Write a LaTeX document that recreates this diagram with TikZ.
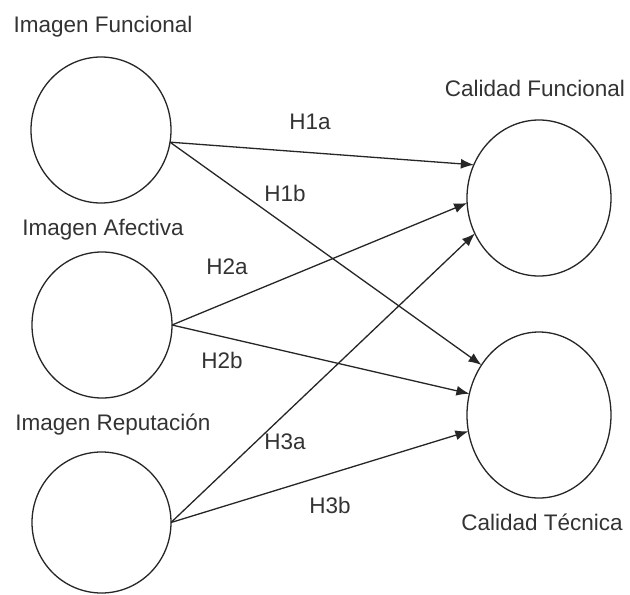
\documentclass[tikz,border=0pt]{standalone}
\usepackage{fontspec}
\setmainfont{Liberation Sans}
\usetikzlibrary{shapes.geometric,arrows.meta}
\begin{document}
\begin{tikzpicture}[x=1pt,y=-1pt,
  construct/.style={ellipse,draw=black!85,line width=1.3pt,inner sep=0pt,outer sep=0pt},
  lbl/.style={text=black!80,font=\fontsize{22.5}{26}\selectfont,inner sep=0pt},
  hyp/.style={-{Latex[length=13pt,width=10pt]},line width=1.3pt,draw=black!85}]
\useasboundingbox[fill=white] (0,0) rectangle (630,595);
% constructs
\node[construct,minimum width=140pt,minimum height=146pt] (if) at (101,130) {};
\node[construct,minimum width=140pt,minimum height=146pt] (ia) at (102,325) {};
\node[construct,minimum width=139pt,minimum height=141pt] (ir) at (101.5,522.5) {};
\node[construct,minimum width=144pt,minimum height=156pt] (cf) at (539,198) {};
\node[construct,minimum width=144pt,minimum height=166pt] (ct) at (539,415) {};
% construct labels
\node[lbl] (lif) at (103,27) {Imagen Funcional};
\node[lbl] (lia) at (103,230) {Imagen Afectiva};
\node[lbl] (lir) at (113,425) {Imagen Reputación};
\node[lbl] (lcf) at (535,88) {Calidad Funcional};
\node[lbl] (lct) at (542,522) {Calidad Técnica};
% hypotheses
\draw[hyp] (if.-10.7) -- (cf.153.8);
\draw[hyp] (if.-10.7) -- (ct.139.3);
\draw[hyp] (ia.east) -- (cf.184);
\draw[hyp] (ia.east) -- (ct.163.7);
\draw[hyp] (ir.east) -- (cf.209.6);
\draw[hyp] (ir.east) -- (ct.193.3);
% hypothesis labels
\node[lbl] (h1a) at (310,122) {H1a};
\node[lbl] (h1b) at (285,193) {H1b};
\node[lbl] (h2a) at (227,267) {H2a};
\node[lbl] (h2b) at (222,360) {H2b};
\node[lbl] (h3a) at (285,442) {H3a};
\node[lbl] (h3b) at (330,505) {H3b};
\end{tikzpicture}
\end{document}
